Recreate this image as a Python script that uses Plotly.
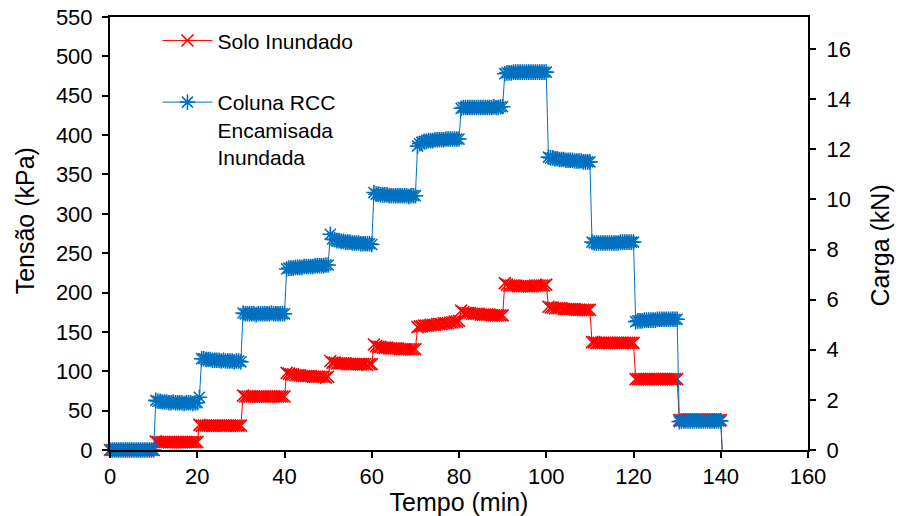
import plotly.graph_objects as go

# Load-test readings, logged every 0.5 min; one list per 10-min load stage.
intervalo_min = 0.5

# Tensão (kPa) – RCC column, jacketed, flooded
coluna_estagios = [
    [0] * 21,
    [63, 62, 62, 61, 61, 61, 60, 60, 61, 60, 60, 60, 60, 59, 60, 60, 60, 59, 60, 60],
    [67, 116, 116, 115, 115, 115, 114, 114, 114, 114, 113, 114, 113, 113, 113, 113, 112, 113, 113, 112],
    [174, 173, 173, 173, 173, 173, 172, 173, 173, 173, 173, 173, 173, 174, 173, 173, 173, 173, 173, 173],
    [230, 231, 231, 231, 232, 232, 232, 232, 233, 233, 233, 233, 233, 234, 234, 234, 234, 234, 235, 235],
    [274, 268, 267, 266, 266, 265, 265, 264, 264, 264, 263, 263, 263, 263, 262, 262, 262, 262, 262, 261],
    [327, 325, 325, 324, 324, 324, 324, 323, 323, 323, 323, 323, 323, 323, 323, 323, 322, 323, 323, 323],
    [386, 389, 391, 392, 392, 393, 393, 393, 394, 394, 394, 394, 394, 395, 395, 395, 395, 395, 395, 395],
    [434, 435, 435, 435, 435, 435, 435, 435, 435, 435, 435, 435, 435, 435, 435, 436, 435, 435, 436, 436],
    [478, 479, 479, 479, 480, 480, 480, 480, 480, 480, 480, 480, 480, 480, 480, 480, 480, 480, 480, 480],
    [372, 371, 371, 370, 370, 369, 369, 369, 368, 368, 368, 368, 367, 367, 367, 367, 366, 366, 366, 366],
    [264, 263, 263, 263, 263, 263, 263, 263, 263, 263, 263, 263, 263, 264, 264, 264, 264, 264, 264, 264],
    [163, 164, 164, 164, 165, 165, 165, 165, 165, 165, 166, 166, 166, 166, 166, 166, 166, 166, 166, 166],
    [36, 37, 37, 37, 37, 37, 37, 37, 37, 37, 37, 37, 37, 37, 37, 37, 37, 37, 37, 37],
    [-20],  # unloading reading, below the plotted range
]

# Tensão (kPa) – flooded soil
solo_estagios = [
    [0] * 21,
    [11, 10, 10, 10, 10, 10, 10, 10, 10, 10, 10, 10, 10, 10, 10, 10, 10, 10, 10, 10],
    [32, 31, 31, 31, 31, 31, 31, 31, 31, 31, 31, 31, 31, 31, 31, 31, 31, 31, 31, 31],
    [69, 68, 68, 68, 68, 68, 68, 68, 68, 68, 68, 68, 68, 68, 68, 68, 68, 68, 68, 68],
    [98, 97, 96, 96, 95, 95, 95, 94, 94, 94, 94, 94, 93, 93, 93, 93, 93, 93, 92, 93],
    [113, 111, 111, 110, 110, 110, 110, 110, 109, 109, 109, 109, 109, 109, 109, 109, 109, 108, 109, 109],
    [134, 132, 131, 131, 130, 130, 130, 129, 129, 129, 129, 129, 128, 128, 128, 128, 128, 128, 128, 128],
    [156, 157, 157, 158, 158, 158, 159, 159, 159, 160, 160, 160, 161, 161, 161, 162, 162, 163, 163, 164],
    [177, 175, 174, 174, 174, 173, 173, 173, 173, 172, 172, 172, 172, 172, 171, 171, 171, 171, 171, 171],
    [212, 210, 209, 209, 209, 209, 208, 208, 208, 208, 208, 208, 208, 208, 209, 209, 209, 209, 209, 210],
    [182, 181, 181, 180, 180, 180, 180, 179, 179, 179, 179, 179, 179, 178, 178, 178, 178, 178, 178, 178],
    [137, 137, 136, 136, 136, 136, 136, 136, 136, 136, 136, 136, 136, 136, 136, 136, 136, 136, 136, 136],
    [90, 90, 90, 90, 90, 90, 90, 90, 90, 90, 90, 90, 90, 90, 90, 90, 90, 90, 90, 90],
    [38, 38, 38, 38, 38, 38, 38, 38, 38, 38, 38, 38, 38, 38, 38, 38, 38, 38, 38, 38],
    [-20],  # unloading reading, below the plotted range
]

# Loading plate area (m²): Carga (kN) = Tensão (kPa) × area
area_placa_m2 = 0.0314159

x_ticks = [0, 20, 40, 60, 80, 100, 120, 140, 160]
y_ticks = [0, 50, 100, 150, 200, 250, 300, 350, 400, 450, 500, 550]
y2_ticks = [0, 2, 4, 6, 8, 10, 12, 14, 16]
y_max = 550

nome_solo = "Solo Inundado"
nome_coluna = "Coluna RCC<br>Encamisada<br>Inundada"


def flatten(stages):
    vals = []
    for s in stages:
        vals.extend(s)
    return vals


def split_in_range(values):
    """Readings inside the axis range get markers; the trailing
    out-of-range reading is only reached by the connecting line."""
    t = [i * intervalo_min for i in range(len(values))]
    n = len(values)
    while n > 0 and not (0 <= values[n - 1] <= y_max):
        n -= 1
    return t[:n], values[:n], t[n - 1:], values[n - 1:]


solo = flatten(solo_estagios)
coluna = flatten(coluna_estagios)

RED = "#FF0000"
BLUE = "#0070C0"
FONT = "Liberation Sans, Arial, sans-serif"

fig = go.Figure()


def add_series(values, name, color, symbol, size, legend):
    t_in, v_in, t_out, v_out = split_in_range(values)
    fig.add_trace(go.Scatter(
        x=t_in, y=v_in, name=name, mode="lines+markers",
        line=dict(color=color, width=1),
        marker=dict(symbol=symbol, size=size, color=color, line=dict(color=color, width=1.6)),
        cliponaxis=False, legend=legend,
    ))
    fig.add_trace(go.Scatter(
        x=t_out, y=v_out, mode="lines", line=dict(color=color, width=1),
        showlegend=False, hoverinfo="skip",
    ))


add_series(solo, nome_solo, RED, "x-thin", 12, "legend")
add_series(coluna, nome_coluna, BLUE, "asterisk", 13, "legend2")

# Secondary scale in kN (same readings expressed as load)
fig.add_trace(go.Scatter(
    x=[0], y=[0], yaxis="y2",
    mode="markers", marker=dict(opacity=0), showlegend=False, hoverinfo="skip",
))

axis_common = dict(
    showgrid=False, zeroline=False, showline=True, linecolor="black", linewidth=2,
    ticks="outside", ticklen=6, tickwidth=1.5, tickcolor="black", automargin=False,
    tickfont=dict(family=FONT, size=22, color="black"),
)

fig.update_layout(
    width=899, height=516,
    margin=dict(l=110, r=91, t=17, b=66),
    paper_bgcolor="white", plot_bgcolor="white",
    font=dict(family=FONT, size=22, color="black"),
    xaxis=dict(range=[0, 160], tickvals=x_ticks, mirror=True,
               title=dict(text="Tempo (min)", font=dict(size=25), standoff=2),
               **axis_common),
    yaxis=dict(range=[0, y_max], tickvals=y_ticks, ticklabelstandoff=5,
               **axis_common),
    yaxis2=dict(range=[0, y_max * area_placa_m2], tickvals=y2_ticks, overlaying="y", side="right",
                ticklabelstandoff=6, **axis_common),
    legend=dict(x=0.068, y=0.945, xanchor="left", yanchor="middle",
                bgcolor="rgba(0,0,0,0)", itemwidth=50,
                font=dict(family=FONT, size=21, color="black")),
    legend2=dict(x=0.068, y=0.85, xanchor="left", yanchor="top",
                 bgcolor="rgba(0,0,0,0)", itemwidth=50, valign="top",
                 font=dict(family=FONT, size=21, color="black")),
    showlegend=True,
    annotations=[
        dict(text="Tensão (kPa)", xref="paper", yref="paper", x=-0.122, y=0.53,
             xanchor="center", yanchor="middle", textangle=-90, showarrow=False,
             font=dict(family=FONT, size=25, color="black")),
        dict(text="Carga (kN)", xref="paper", yref="paper", x=1.103, y=0.472,
             xanchor="center", yanchor="middle", textangle=-90, showarrow=False,
             font=dict(family=FONT, size=25, color="black")),
    ],
)

fig.write_html("out.html")
